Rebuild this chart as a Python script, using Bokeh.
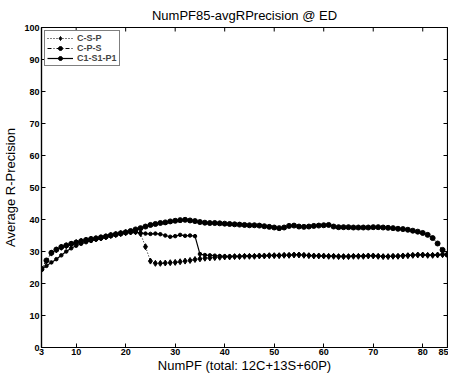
import math
from bokeh.plotting import figure
from bokeh.models import Range1d, FixedTicker, Legend
from bokeh.embed import file_html
from bokeh.resources import INLINE

num_pf = list(range(3, 86))

c_s_p = [24.5, 27.0, 29.5, 30.5, 31.3, 31.8, 32.3, 32.8, 33.2, 33.5,
         33.8, 34.0, 34.3, 34.6, 35.0, 35.3, 35.6, 35.9, 36.1, 36.2,
         35.6, 31.5, 27.0, 26.3, 26.3, 26.4, 26.5, 26.6, 26.8, 27.0,
         27.2, 27.5, 27.7, 27.9, 28.0, 28.1, 28.2, 28.3, 28.3, 28.4,
         28.4, 28.5, 28.5, 28.5, 28.6, 28.6, 28.7, 28.7, 28.7, 28.8,
         28.8, 28.9, 28.9, 28.8, 28.7, 28.6, 28.6, 28.6, 28.5, 28.5,
         28.4, 28.4, 28.4, 28.5, 28.5, 28.5, 28.6, 28.6, 28.5, 28.4,
         28.4, 28.5, 28.5, 28.6, 28.7, 28.8, 28.9, 28.9, 28.8, 28.8,
         28.9, 29.0, 29.0]

c_p_s = [24.5, 27.2, 29.6, 30.6, 31.4, 31.9, 32.4, 32.8, 33.2, 33.6,
         33.9, 34.1, 34.4, 34.7, 35.1, 35.4, 35.7, 36.0, 36.4, 36.9,
         37.3, 37.8, 38.3, 38.6, 38.9, 39.1, 39.4, 39.6, 39.8, 39.9,
         39.7, 39.5, 39.2, 39.0, 38.9, 38.9, 38.8, 38.7, 38.6, 38.5,
         38.4, 38.3, 38.2, 38.2, 38.1, 37.9, 37.7, 37.5, 37.3, 37.5,
         38.0, 38.1, 37.8, 37.7, 37.8, 38.0, 38.1, 38.2, 38.3, 37.8,
         37.6, 37.6, 37.6, 37.5, 37.5, 37.5, 37.5, 37.6, 37.6, 37.5,
         37.4, 37.3, 37.1, 37.0, 36.8, 36.5, 36.2, 35.8, 35.2, 34.2,
         32.5, 30.5, 29.0]

c1_s1_p1 = [24.5, 25.5, 26.6, 27.6, 28.8, 30.0, 31.0, 31.8, 32.4, 32.9,
            33.3, 33.7, 34.0, 34.4, 34.8, 35.1, 35.4, 35.7, 35.9, 36.0,
            35.8, 35.6, 35.5, 35.6, 35.4, 35.0, 34.6, 34.8, 35.2, 34.9,
            35.0, 34.8, 29.2, 28.9, 28.8, 28.7, 28.6, 28.5, 28.5, 28.5,
            28.5, 28.6, 28.6, 28.6, 28.7, 28.7, 28.8, 28.8, 28.8, 28.9,
            28.9, 29.0, 29.0, 28.9, 28.8, 28.7, 28.7, 28.6, 28.6, 28.6,
            28.5, 28.5, 28.5, 28.6, 28.6, 28.6, 28.7, 28.7, 28.6, 28.5,
            28.5, 28.6, 28.6, 28.7, 28.8, 28.9, 29.0, 29.0, 28.9, 28.9,
            29.0, 29.1, 29.1]

x_ticks = [3, 10, 20, 30, 40, 50, 60, 70, 80, 85]
y_ticks = list(range(0, 101, 10))
x_min, x_max = 3, 85
y_min, y_max = 0, 100

FONT = "Liberation Sans"

p = figure(width=448, height=375, output_backend="svg", toolbar_location=None,
           x_range=Range1d(x_min, x_max), y_range=Range1d(y_min, y_max),
           min_border_left=5, min_border_right=1, min_border_top=5,
           min_border_bottom=5, background_fill_color="white",
           border_fill_color="white")

p.title.text = "NumPF85-avgRPrecision @ ED"
p.title.align = "center"
p.title.text_font = FONT
p.title.text_font_size = "13px"
p.title.text_font_style = "normal"
p.title.text_color = "black"
p.title.standoff = 10

p.grid.visible = False
p.outline_line_color = "black"
p.outline_line_width = 1.2

for ax in (p.xaxis[0], p.yaxis[0]):
    ax.major_tick_in = 4
    ax.major_tick_out = 0
    ax.minor_tick_line_color = None
    ax.major_label_text_font = FONT
    ax.major_label_text_font_size = "9px"
    ax.major_label_text_font_style = "bold"
    ax.major_label_text_color = "black"
    ax.axis_label_text_font = FONT
    ax.axis_label_text_font_size = "13px"
    ax.axis_label_text_font_style = "normal"
    ax.axis_label_text_color = "black"
    ax.axis_line_width = 1.2
    ax.major_label_standoff = 2

p.xaxis[0].major_label_standoff = 1
p.xaxis[0].axis_label_standoff = 0
p.yaxis[0].axis_label_standoff = 3
p.xaxis[0].ticker = FixedTicker(ticks=x_ticks)
p.yaxis[0].ticker = FixedTicker(ticks=y_ticks)
p.xaxis[0].axis_label = "NumPF (total: 12C+13S+60P)"
p.yaxis[0].axis_label = "Average R-Precision"

# inward ticks on the top and right edges of the box
p.ray(x=x_ticks, y=[y_max] * len(x_ticks), length=4, length_units="screen",
      angle=-math.pi / 2, line_color="black", line_width=1)
p.ray(x=[x_max] * len(y_ticks), y=y_ticks, length=4, length_units="screen",
      angle=math.pi, line_color="black", line_width=1)

r1l = p.line(num_pf, c_s_p, line_color="black", line_width=1, line_dash="1 2")
r1m = p.scatter(num_pf, c_s_p, marker="diamond", size=6, fill_color="black", line_color="black")
r2l = p.line(num_pf, c_p_s, line_color="black", line_width=1, line_dash="4 2 1 2")
r2m = p.scatter(num_pf, c_p_s, marker="circle", size=5, fill_color="black", line_color="black")
r3l = p.line(num_pf, c1_s1_p1, line_color="black", line_width=1.2)
r3m = p.scatter(num_pf, c1_s1_p1, marker="circle", size=3.5, fill_color="black", line_color="black")

legend = Legend(items=[("C-S-P", [r1l, r1m]), ("C-P-S", [r2l, r2m]), ("C1-S1-P1", [r3l, r3m])],
                location="top_left")
legend.margin = 3
legend.padding = 2
legend.spacing = 0
legend.glyph_width = 26
legend.glyph_height = 10
legend.label_height = 10
legend.label_standoff = 4
legend.label_text_font = FONT
legend.label_text_font_size = "9px"
legend.label_text_font_style = "bold"
legend.border_line_color = "black"
legend.border_line_width = 1.2
legend.background_fill_alpha = 1
p.add_layout(legend)

open("out.html", "w").write(file_html(p, INLINE))
